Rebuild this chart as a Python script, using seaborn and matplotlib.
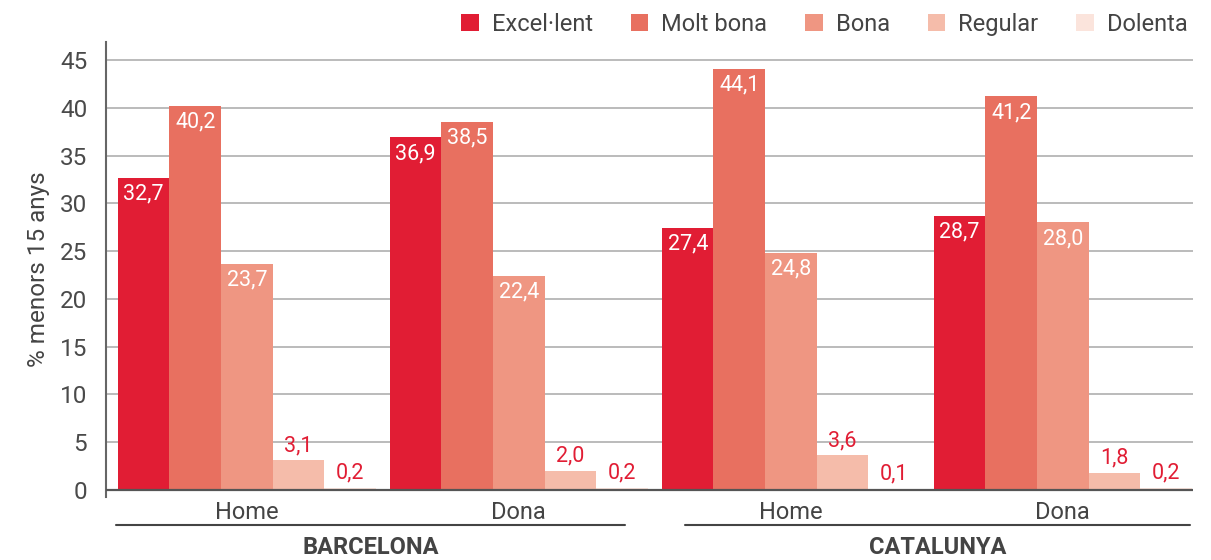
import matplotlib
matplotlib.use("Agg")
import matplotlib.pyplot as plt
import matplotlib.transforms as mtransforms
import seaborn as sns
import pandas as pd
from matplotlib import font_manager

# ---- data ----
groups = ["Barcelona Home", "Barcelona Dona", "Catalunya Home", "Catalunya Dona"]
group_ticklabels = ["Home", "Dona", "Home", "Dona"]
regions = ["BARCELONA", "CATALUNYA"]
categories = ["Excel·lent", "Molt bona", "Bona", "Regular", "Dolenta"]
excellent = [32.7, 36.9, 27.4, 28.7]
molt_bona = [40.2, 38.5, 44.1, 41.2]
bona = [23.7, 22.4, 24.8, 28.0]
regular = [3.1, 2.0, 3.6, 1.8]
dolenta = [0.2, 0.2, 0.1, 0.2]
yticks = [0, 5, 10, 15, 20, 25, 30, 35, 40, 45]
ylabel = "% menors 15 anys"

colors = ["#E11D34", "#E87060", "#EF9682", "#F5BCAA", "#FBE4DC"]

series = [excellent, molt_bona, bona, regular, dolenta]
rows = []
for cat, vals in zip(categories, series):
    for g, v in zip(groups, vals):
        rows.append({"grup": g, "cat": cat, "val": v})
df = pd.DataFrame(rows)

sns.set_theme(style="white")
avail = {f.name for f in font_manager.fontManager.ttflist}
fam = []
for cand in ["Liberation Sans Narrow", "DejaVu Sans Condensed", "Roboto", "DejaVu Sans"]:
    if cand in avail:
        fam.append(cand)
fam.append("DejaVu Sans")
plt.rcParams["font.family"] = fam

TXT = "#444444"

fig = plt.figure(figsize=(12.11, 5.60), dpi=100)
ax = fig.add_axes([0.0875, 0.1125, 0.985 - 0.0875, 0.925 - 0.1125])

sns.barplot(data=df, x="grup", y="val", hue="cat", order=groups,
            hue_order=categories, palette=colors, saturation=1,
            width=0.948, linewidth=0, ax=ax, errorbar=None)

ax.set_xlim(-0.518, 3.478)
ax.set_ylim(-0.75, 46.9)
ax.set_yticks(yticks)
ax.set_yticklabels([str(t) for t in yticks], fontsize=17.5, color="#4a4a4a")
ax.yaxis.grid(True, color="#a8a8a8", linewidth=1.1)
ax.set_axisbelow(True)
ax.tick_params(axis="y", length=4.5, width=1.2, color="#666666", pad=9)
ax.tick_params(axis="x", length=0, pad=3)
ax.set_xticks(range(len(groups)))
ax.set_xticklabels(group_ticklabels, fontsize=17, color=TXT)
ax.set_xlabel("")
ax.set_ylabel(ylabel, fontsize=17.5, color=TXT, labelpad=7)

for s in ["top", "right", "bottom"]:
    ax.spines[s].set_visible(False)
ax.spines["left"].set_color("#666666")
ax.spines["left"].set_linewidth(1.5)
ax.axhline(0, color="#555555", linewidth=1.6, zorder=3)

# value labels
for ci, cont in enumerate(ax.containers):
    for bar, v in zip(cont, series[ci]):
        x = bar.get_x() + bar.get_width() / 2
        txt = f"{v:.1f}".replace(".", ",")
        if v >= 10:
            ax.annotate(txt, (x, bar.get_height()), xytext=(0, -4),
                        textcoords="offset points", ha="center", va="top",
                        color="white", fontsize=15.5, zorder=5)
        else:
            ax.annotate(txt, (x, bar.get_height()), xytext=(0, 3),
                        textcoords="offset points", ha="center", va="bottom",
                        color="#E11D34", fontsize=15.5, zorder=5)

# region brackets
trans = mtransforms.blended_transform_factory(ax.transData, fig.transFigure)
for ri, name in enumerate(regions):
    g0 = 2 * ri
    x0 = g0 - 0.48 + (0.09 if ri == 1 else 0)
    x1 = g0 + 1 + 0.39 + (0.077 if ri == 1 else 0)
    ax.plot([x0, x1], [1 - 525 / 560] * 2, transform=trans, color="#444444",
            linewidth=1.5, clip_on=False)
    ax.text((x0 + x1) / 2, 1 - 547 / 560, name, transform=trans, ha="center",
            va="center", fontsize=17, fontweight="bold", color=TXT)

# legend
handles, labels = ax.get_legend_handles_labels()
ax.legend(handles, labels, loc="lower right", bbox_to_anchor=(1.005, 0.99),
          ncol=5, frameon=False, fontsize=17, handlelength=0.75,
          handleheight=0.75, handletextpad=0.55, columnspacing=1.6,
          labelcolor=TXT, borderaxespad=0.05)

fig.savefig("out.png", dpi=100)
